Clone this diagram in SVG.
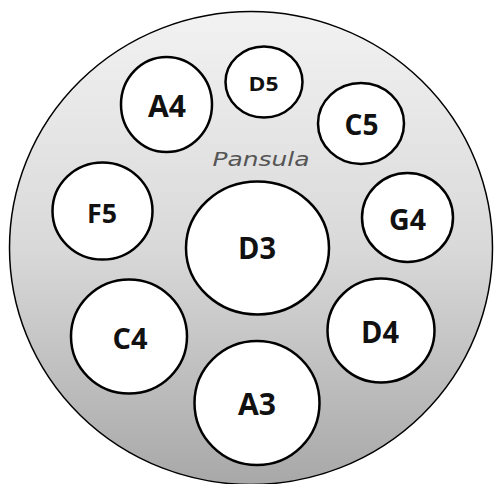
<svg xmlns="http://www.w3.org/2000/svg" width="496" height="484" viewBox="0 0 496 484">
<defs>
<linearGradient id="bg" x1="0" y1="0" x2="0" y2="1">
<stop offset="0" stop-color="#f2f2f2"/>
<stop offset="0.5" stop-color="#d9d9d9"/>
<stop offset="1" stop-color="#a8a8a8"/>
</linearGradient>
<style>
.pad{fill:#ffffff;stroke:#000000;stroke-width:2.5}
.lbl{font-family:"Open Sans",Lato,"Liberation Sans",sans-serif;font-weight:bold;fill:#111111;text-anchor:middle}
</style>
</defs>
<rect width="496" height="484" fill="#ffffff"/>
<g id="pansula">
<ellipse cx="251" cy="248" rx="241.5" ry="236.5" fill="url(#bg)" stroke="#000" stroke-width="1.5"/>
<text x="261" y="166" font-family="'DejaVu Sans',sans-serif" font-style="italic" font-size="20" font-weight="300" fill="#555555" text-anchor="middle" textLength="97" lengthAdjust="spacingAndGlyphs">Pansula</text>
</g>
<g id="connectors"/>
<g id="A4"><ellipse class="pad" cx="166.5" cy="104.5" rx="45.5" ry="47.5"/><text class="lbl" x="167" y="116.5" font-size="30" textLength="38" lengthAdjust="spacingAndGlyphs">A4</text></g>
<g id="D5"><ellipse class="pad" cx="264" cy="82" rx="38.5" ry="35.5"/><text class="lbl" x="263.5" y="90.5" font-size="20" textLength="30" lengthAdjust="spacingAndGlyphs">D5</text></g>
<g id="C5"><ellipse class="pad" cx="361" cy="123.5" rx="43" ry="40.5"/><text class="lbl" x="361.5" y="135" font-size="28" textLength="34" lengthAdjust="spacingAndGlyphs">C5</text></g>
<g id="F5"><ellipse class="pad" cx="102.5" cy="211" rx="50" ry="48.5"/><text class="lbl" x="102" y="223" font-size="26" textLength="30" lengthAdjust="spacingAndGlyphs">F5</text></g>
<g id="D3"><ellipse class="pad" cx="257.5" cy="248" rx="71.5" ry="66.5"/><text class="lbl" x="257" y="258.5" font-size="30" textLength="38" lengthAdjust="spacingAndGlyphs">D3</text></g>
<g id="G4"><ellipse class="pad" cx="407.5" cy="217.5" rx="45.5" ry="44.5"/><text class="lbl" x="407.5" y="230" font-size="28" textLength="37" lengthAdjust="spacingAndGlyphs">G4</text></g>
<g id="C4"><ellipse class="pad" cx="129" cy="336.5" rx="58" ry="57"/><text class="lbl" x="130" y="348.5" font-size="28" textLength="35" lengthAdjust="spacingAndGlyphs">C4</text></g>
<g id="D4"><ellipse class="pad" cx="381" cy="330.5" rx="53.5" ry="52"/><text class="lbl" x="380" y="343" font-size="30" textLength="38" lengthAdjust="spacingAndGlyphs">D4</text></g>
<g id="A3"><ellipse class="pad" cx="257" cy="403" rx="62.5" ry="62"/><text class="lbl" x="257" y="415" font-size="30" textLength="38" lengthAdjust="spacingAndGlyphs">A3</text></g>
</svg>
